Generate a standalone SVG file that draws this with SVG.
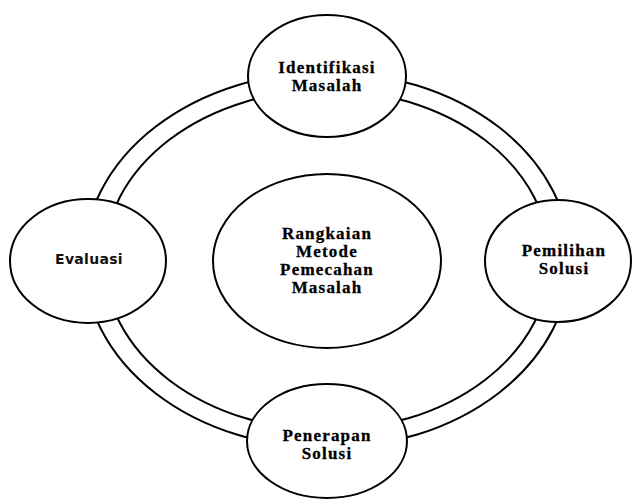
<svg xmlns="http://www.w3.org/2000/svg" width="632" height="500" viewBox="0 0 632 500">
<style>
.ring{fill:none;stroke:#000;stroke-width:2}
.node{fill:#fff;stroke:#000;stroke-width:2}
.t{font-family:"Liberation Serif","Times New Roman",serif;font-weight:bold;font-size:17px;letter-spacing:1.2px;text-anchor:middle;fill:#000;stroke:#000;stroke-width:0.3px}
.s{font-family:"DejaVu Sans",sans-serif;font-weight:bold;font-size:14px;letter-spacing:0.3px;text-anchor:middle;fill:#111}
</style>
<rect width="632" height="500" fill="#fff"/>
<g id="connectors">
<ellipse class="ring" cx="327" cy="260" rx="243" ry="188"/>
<ellipse class="ring" cx="327" cy="260" rx="223" ry="170"/>
</g>
<g id="center">
<ellipse class="node" cx="327" cy="261" rx="114" ry="87"/>
<text class="t" x="327" y="239">Rangkaian</text>
<text class="t" x="327" y="257">Metode</text>
<text class="t" x="327" y="275">Pemecahan</text>
<text class="t" x="327" y="293">Masalah</text>
</g>
<g id="identifikasi">
<ellipse class="node" cx="327" cy="76" rx="79" ry="61"/>
<text class="t" x="327" y="73">Identifikasi</text>
<text class="t" x="327" y="91">Masalah</text>
</g>
<g id="pemilihan">
<ellipse class="node" cx="558" cy="261" rx="73" ry="61"/>
<text class="t" x="564" y="256">Pemilihan</text>
<text class="t" x="564" y="274">Solusi</text>
</g>
<g id="penerapan">
<ellipse class="node" cx="327" cy="441" rx="80" ry="57"/>
<text class="t" x="327" y="441">Penerapan</text>
<text class="t" x="327" y="459">Solusi</text>
</g>
<g id="evaluasi">
<ellipse class="node" cx="88" cy="261" rx="78" ry="62"/>
<text class="s" x="89" y="264">Evaluasi</text>
</g>
</svg>
